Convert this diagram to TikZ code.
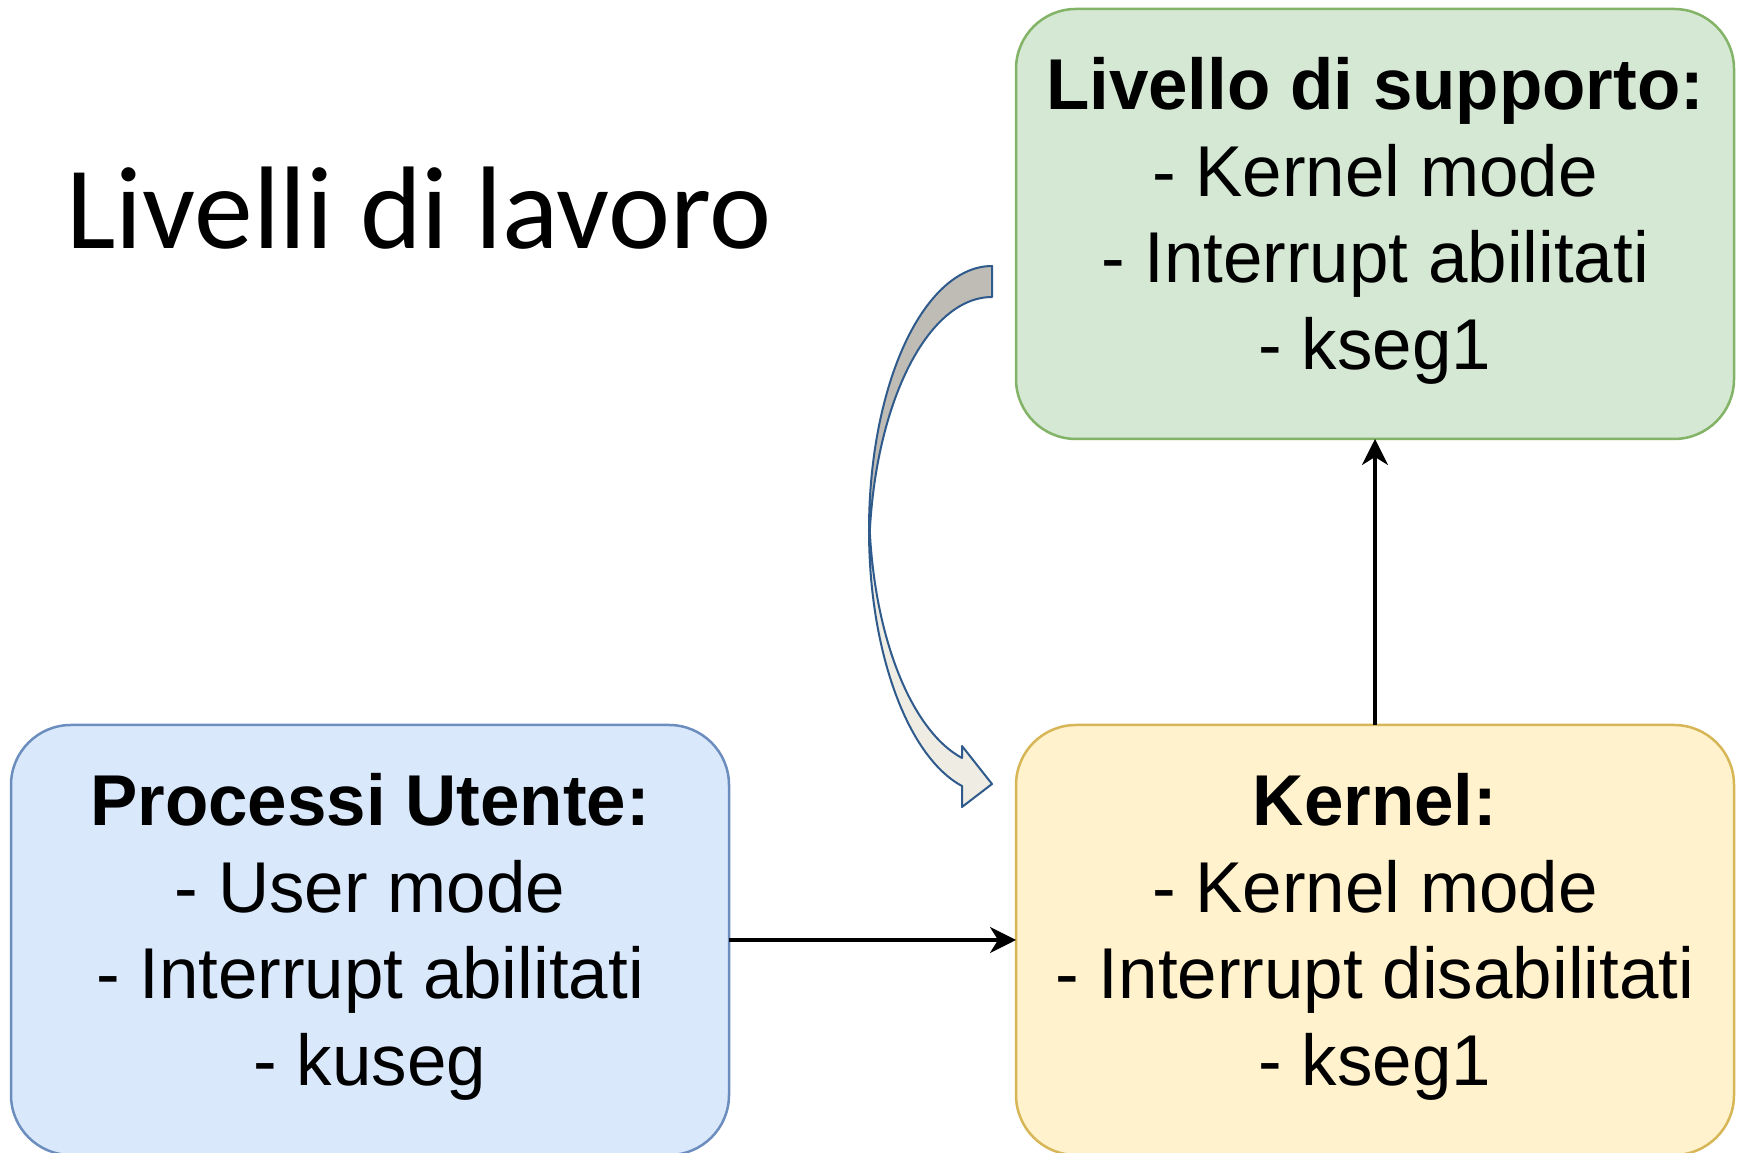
\documentclass[tikz,border=0pt]{standalone}
\usepackage{fontspec}
\newfontfamily\boxfont[FakeStretch=0.985]{Liberation Sans}
\newfontfamily\titlefont{Carlito}
\usetikzlibrary{arrows.meta,calc}
\definecolor{gfill}{HTML}{D5E8D4}
\definecolor{gline}{HTML}{82B366}
\definecolor{yfill}{HTML}{FFF2CC}
\definecolor{yline}{HTML}{D6B656}
\definecolor{bfill}{HTML}{DAE8FC}
\definecolor{bline}{HTML}{6C8EBF}
\definecolor{arrdark}{HTML}{BFBBB5}
\definecolor{arrlight}{HTML}{EEECE3}
\definecolor{arrline}{HTML}{2F5A8C}
\begin{document}
\begin{tikzpicture}[x=1pt,y=1pt,
  box/.style={rectangle, rounded corners=60pt, line width=2.5pt,
    minimum width=718pt, minimum height=430pt, inner sep=0pt, outer sep=0pt},
  txt/.style={align=center, inner sep=0pt,
    font=\boxfont\fontsize{72}{86.5}\selectfont},
  conn/.style={line width=3.3pt, draw=black,
    -{Stealth[length=26pt,width=26pt,inset=8pt]}},
  blockarrow/.style={draw=arrline, line width=2pt, line join=round}]
\clip (0,0) rectangle (1741,1153);
\fill[white] (0,0) rectangle (1741,1153);

% title
\node[anchor=base west, inner sep=0pt,
  font=\titlefont\fontsize{117.5}{140}\selectfont] (title) at (66,904) {Livelli di lavoro};

% boxes
\node[box, fill=gfill, draw=gline] (green) at (1375,929) {};
\node[box, fill=yfill, draw=yline] (yellow) at (1375,213) {};
\node[box, fill=bfill, draw=bline] (blue) at (370,213) {};

\node[txt] (greentxt) at ([yshift=3pt]green.center)
  {\textbf{Livello di supporto:}\\- Kernel mode\\- Interrupt abilitati\\- kseg1};
\node[txt] (yellowtxt) at ([yshift=3pt]yellow.center)
  {\textbf{Kernel:}\\- Kernel mode\\- Interrupt disabilitati\\- kseg1};
\node[txt] (bluetxt) at ([yshift=3pt]blue.center)
  {\textbf{Processi Utente:}\\- User mode\\- Interrupt abilitati\\- kuseg};

% connectors
\draw[conn] (blue) -- (yellow);
\draw[conn] (yellow) -- (green);

% curved block arrow (back part, darker)
\coordinate (ec1) at (992,623);
\coordinate (ec2) at (992,592);
\coordinate (ec3) at (992,651);
\filldraw[blockarrow, fill=arrdark]
  ([shift={(ec1)}]90:123 and 264)
  arc[start angle=90, end angle=183.37, x radius=123, y radius=264]
  arc[start angle=176.63, end angle=90, x radius=123, y radius=264]
  -- cycle;
% front part with head
\filldraw[blockarrow, fill=arrlight]
  ([shift={(ec1)}]176.96:123 and 264)
  arc[start angle=176.96, end angle=255.88, x radius=123, y radius=264]
  -- (962,346) -- (992,369) -- (962,407) -- (962,395)
  arc[start angle=255.88, end angle=183.04, x radius=123, y radius=264]
  -- cycle;
\end{tikzpicture}
\end{document}
